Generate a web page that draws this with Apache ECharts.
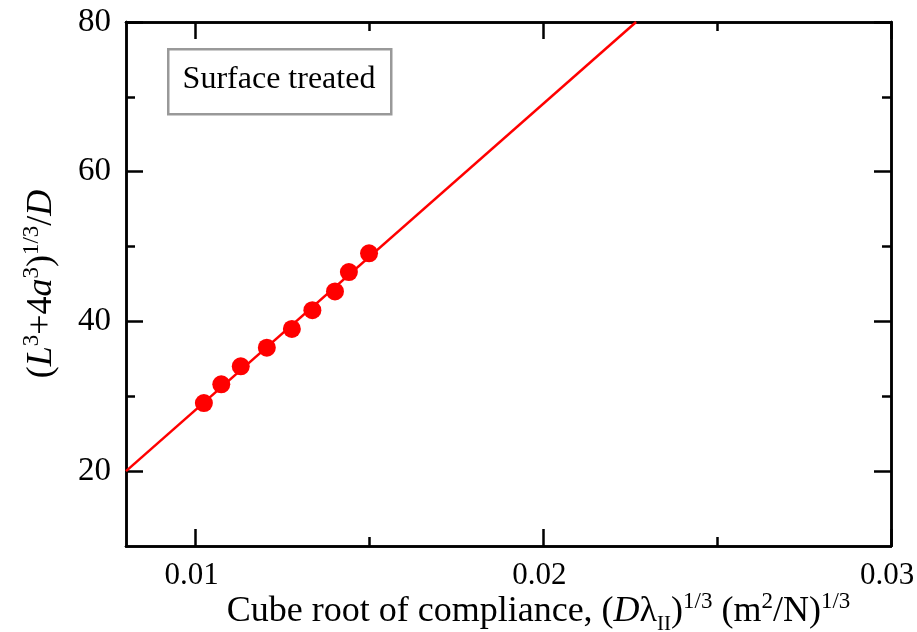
<!DOCTYPE html>
<html>
<head>
<meta charset="utf-8">
<script src="https://cdn.jsdelivr.net/npm/echarts@6/dist/echarts.min.js"></script>
<style>html,body{margin:0;padding:0;background:#fff;}#c{width:917px;height:632px;}</style>
</head>
<body>
<div id="c"></div>
<script>
// ---- data ----
const compliance = [0.01024, 0.01074, 0.01130, 0.01205, 0.01277, 0.01336, 0.01401, 0.01441, 0.01499];
const ratio = [29.1, 31.6, 34.0, 36.5, 39.0, 41.5, 44.0, 46.6, 49.1];
const fitX = [0.008, 0.02267];
const fitY = [20, 80];
const xTickValues = [0.01, 0.02, 0.03];
const xMinorTickValues = [0.015, 0.025];
const yTickValues = [20, 40, 60, 80];
const yMinorTickValues = [30, 50, 70];
const legendText = 'Surface treated';

const FONT = '"Liberation Serif", "Times New Roman", serif';
const RED = '#ff0000';

const points = compliance.map((x, i) => [x, ratio[i]]);
const fitLine = fitX.map((x, i) => [x, fitY[i]]);

const axLine = { show: true, lineStyle: { color: '#000', width: 2.5 } };

function xAx(pos, ticks, len, showLabel, extra) {
  return Object.assign({
    type: 'value', position: pos, min: 0.008, max: 0.030,
    axisLine: axLine,
    axisTick: { show: true, inside: true, length: len, customValues: ticks, lineStyle: { color: '#000', width: 2.5 } },
    axisLabel: showLabel ? { show: true, customValues: xTickValues, formatter: v => v.toFixed(2), fontFamily: FONT, fontSize: 31, color: '#000', margin: 14, padding: [0, 8, 0, 0] } : { show: false },
    splitLine: { show: false }
  }, extra || {});
}
function yAx(pos, ticks, len, showLabel, extra) {
  return Object.assign({
    type: 'value', position: pos, min: 10, max: 80,
    axisLine: axLine,
    axisTick: { show: true, inside: true, length: len, customValues: ticks, lineStyle: { color: '#000', width: 2.5 } },
    axisLabel: showLabel ? { show: true, customValues: yTickValues, fontFamily: FONT, fontSize: 33, color: '#000', margin: 15 } : { show: false },
    splitLine: { show: false }
  }, extra || {});
}

function richSet(size) {
  return {
    n: { fontFamily: FONT, fontSize: size, color: '#000', verticalAlign: 'bottom', lineHeight: size + 4 },
    i: { fontFamily: FONT, fontSize: size, color: '#000', fontStyle: 'italic', verticalAlign: 'bottom', lineHeight: size + 4 },
    sup: { fontFamily: FONT, fontSize: Math.round(size * 0.64), color: '#000', verticalAlign: 'top', lineHeight: Math.round(size * 0.7) },
    sub: { fontFamily: FONT, fontSize: Math.round(size * 0.58), color: '#000', verticalAlign: 'bottom', lineHeight: Math.round(size * 0.58), padding: [0, 0, -5, 0] }
  };
}

const chart = echarts.init(document.getElementById('c'), null, { renderer: 'canvas' });
chart.setOption({
  animation: false,
  backgroundColor: '#fff',
  grid: { left: 126, right: 26, top: 22, bottom: 86, outerBoundsMode: 'none', containLabel: false },
  xAxis: [
    xAx('bottom', xTickValues, 17, true, {
      name: '{n|Cube root of compliance, (}{i|D}{n|λ}{sub|II}{n|)}{sup|1/3}{n| (m}{sup|2}{n|/N)}{sup|1/3}',
      nameLocation: 'middle', nameGap: 44, nameMoveOverlap: false,
      nameTextStyle: { rich: richSet(36), padding: [0, 0, 0, 60] }
    }),
    xAx('bottom', xMinorTickValues, 9, false),
    xAx('top', xTickValues, 17, false),
    xAx('top', xMinorTickValues, 9, false)
  ],
  yAxis: [
    yAx('left', yTickValues, 17, true, {
      name: '{n|(}{i|L}{sup|3}{n|+4}{i|a}{sup|3}{n|)}{sup|1/3}{n|/}{i|D}',
      nameLocation: 'middle', nameGap: 66, nameRotate: 90, nameMoveOverlap: false,
      nameTextStyle: { rich: richSet(36) }
    }),
    yAx('left', yMinorTickValues, 9, false),
    yAx('right', yTickValues, 17, false),
    yAx('right', yMinorTickValues, 9, false)
  ],
  graphic: [
    { type: 'rect', left: 167, top: 48, z: 50, shape: { width: 223, height: 65 }, style: { fill: '#fff', stroke: '#999', lineWidth: 2.5 } },
    { type: 'text', x: 279, y: 80, z: 51, style: { text: legendText, font: '32px ' + FONT, fill: '#000', align: 'center', verticalAlign: 'middle' } }
  ],
  series: [
    { type: 'line', data: fitLine, showSymbol: false, symbol: 'none', lineStyle: { color: RED, width: 2.5 }, clip: true, z: 2 },
    { type: 'scatter', data: points, symbol: 'circle', symbolSize: 18, itemStyle: { color: RED, opacity: 1 }, z: 3 }
  ]
});
</script>
</body>
</html>
